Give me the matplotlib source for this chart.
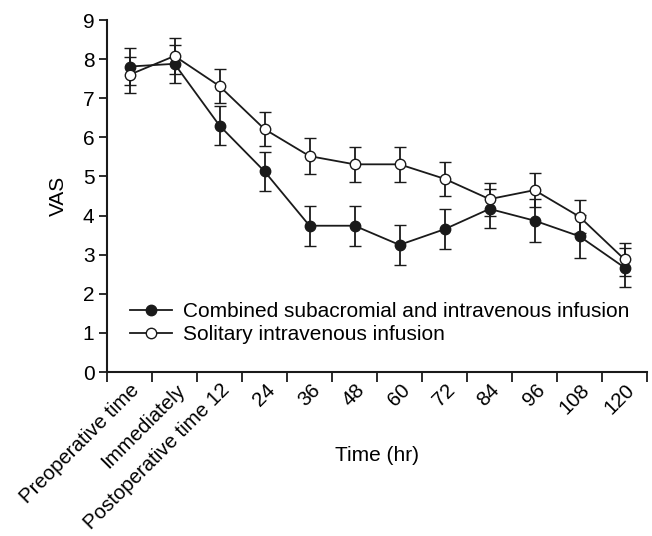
import matplotlib
matplotlib.use("Agg")
import matplotlib.pyplot as plt
import matplotlib.transforms as mtransforms
from matplotlib.lines import Line2D
import numpy as np

categories = ["Preoperative time", "Immediately", "Postoperative time 12", "24", "36",
              "48", "60", "72", "84", "96", "108", "120"]
combined_mean = [7.81, 7.88, 6.30, 5.13, 3.74, 3.74, 3.25, 3.65, 4.17, 3.87, 3.47, 2.67]
combined_err = [0.48, 0.48, 0.50, 0.50, 0.51, 0.51, 0.51, 0.51, 0.50, 0.55, 0.55, 0.50]
solitary_mean = [7.60, 8.08, 7.31, 6.21, 5.52, 5.31, 5.31, 4.94, 4.42, 4.65, 3.97, 2.88]
solitary_err = [0.46, 0.45, 0.44, 0.44, 0.46, 0.44, 0.44, 0.44, 0.42, 0.43, 0.42, 0.43]
yticks = list(range(0, 10))

plt.rcParams['font.family'] = ['Liberation Sans', 'DejaVu Sans']
col = '#1a1a1a'
fs = 15

fig = plt.figure(figsize=(6.52, 5.36), dpi=100)
ax = fig.add_axes([107/652, 1 - 372/536, (647 - 107)/652, (372 - 20)/536])

x = np.arange(len(categories)) + 0.5
ax.errorbar(x, combined_mean, yerr=combined_err, color=col, lw=1.3, marker='o',
            ms=7.5, mfc=col, mec=col, mew=1.0, capsize=4.5, capthick=1.3, elinewidth=1.3,
            zorder=3)
ax.errorbar(x, solitary_mean, yerr=solitary_err, color=col, lw=1.3, marker='o',
            ms=7.5, mfc='white', mec=col, mew=1.0, capsize=4.5, capthick=1.3, elinewidth=1.3,
            zorder=4)

ax.set_xlim(0, len(categories))
ax.set_ylim(0, 9)
ax.set_yticks(yticks)
ax.set_xticks(np.arange(len(categories) + 1), minor=True)
ax.set_xticks(x)
ax.set_xticklabels(categories, rotation=45, ha='right', va='top', fontsize=14.7)
ax.tick_params(axis='x', which='major', length=0, pad=9)
ax.tick_params(axis='x', which='minor', length=7, width=1.3, color=col, direction='out')
ax.tick_params(axis='y', length=6, width=1.3, color=col, labelsize=fs, pad=3)
offset = mtransforms.ScaledTranslation(14/100, 4/100, fig.dpi_scale_trans)
for lbl in ax.get_xticklabels():
    lbl.set_transform(lbl.get_transform() + offset)

for s in ['top', 'right']:
    ax.spines[s].set_visible(False)
for s in ['left', 'bottom']:
    ax.spines[s].set_linewidth(1.5)
    ax.spines[s].set_color(col)

ax.set_ylabel('VAS', fontsize=fs)
ax.yaxis.set_label_coords((68 - 107)/540, 0.5)
ax.set_xlabel('Time (hr)', fontsize=fs)
ax.xaxis.set_label_coords(0.5, (372 - 446)/352)

handles = [
    Line2D([], [], color=col, lw=1.3, marker='o', ms=7.5, mfc=col, mec=col, mew=1.0),
    Line2D([], [], color=col, lw=1.3, marker='o', ms=7.5, mfc='white', mec=col, mew=1.0),
]
labels = ['Combined subacromial and intravenous infusion', 'Solitary intravenous infusion']
ax.legend(handles, labels, loc='upper left', bbox_to_anchor=((130 - 107)/540, (372 - 302)/352),
          frameon=False, fontsize=fs, handlelength=2.0, handletextpad=0.55,
          labelspacing=0.2, borderaxespad=0, borderpad=0)

fig.savefig('out.png', dpi=100)
